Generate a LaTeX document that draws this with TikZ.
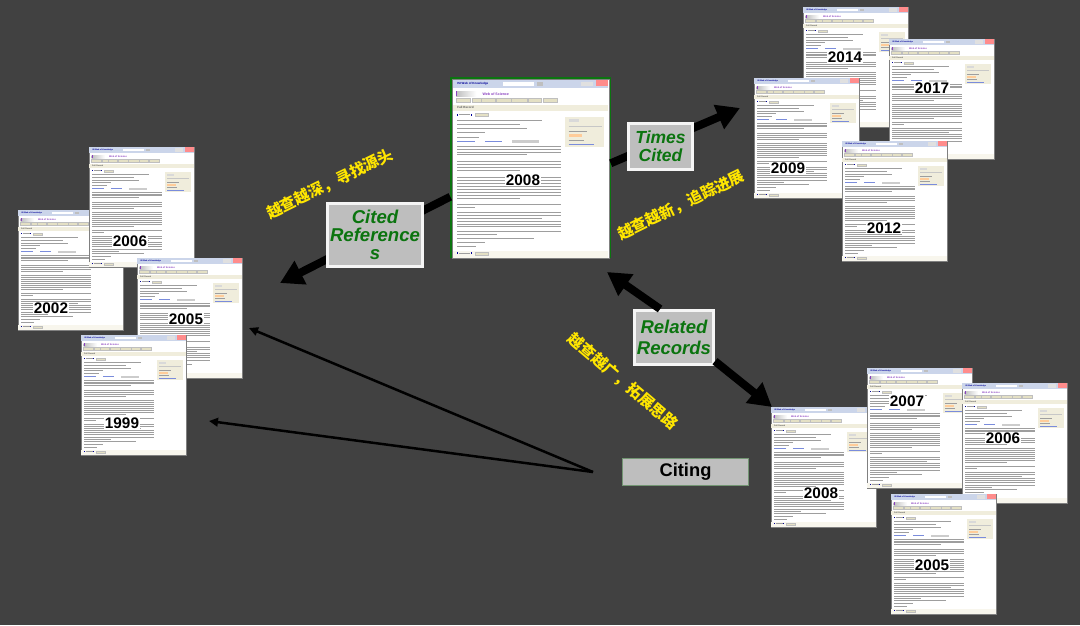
\documentclass[tikz,border=0pt]{standalone}
\usepackage{fontspec}
\setmainfont{Liberation Sans}
\newfontfamily\cjk{Noto Sans CJK SC}
\usetikzlibrary{arrows.meta}

\definecolor{slate}{HTML}{414141}
\definecolor{headblue}{HTML}{CBD5EA}
\definecolor{beige}{HTML}{F0EDDC}
\definecolor{tan}{HTML}{E4E0C4}
\definecolor{linkblue}{HTML}{7A8CDC}
\definecolor{webpurple}{HTML}{8A3FC0}
\definecolor{recgreen}{HTML}{0B740F}
\definecolor{hiyellow}{HTML}{FFE600}
\definecolor{boxgray}{HTML}{BEBEBE}

\tikzset{
    bodyline/.style={draw=black!38, line width=0.55pt},
    tiny text/.style={inner sep=0pt, anchor=west, transform shape},
    pics/recordpage/.style={code={
        \path[fill=white, draw=black!50, line width=0.8pt] (0,0) rectangle (105,120);
        % Window bar
        \fill[headblue] (0.4,0.4) rectangle (104.6,5.6);
        \fill[white] (34,1.6) rectangle (55,4.4);
        \fill[black!25] (57,1.6) rectangle (60.5,4.4);
        \fill[black!12] (86,1.4) rectangle (94,4.6);
        \fill[red!45] (96,0.4) rectangle (104.6,4.6);
        \node[tiny text, text=blue!60!black, font=\bfseries\fontsize{2}{2}\selectfont] (-isi) at (3,3) {ISI Web of Knowledge};
        % Logo and tool row
        \shade[left color=black!25, right color=white] (2.5,8) rectangle (16,11.4);
        \fill[webpurple] (2.5,8) rectangle (3.2,11.4);
        \node[tiny text, text=webpurple, font=\bfseries\fontsize{2.4}{2.4}\selectfont] (-wos) at (20,9.7) {Web of Science};
        \foreach \a/\b in {2.4/12,13/19,19.5/28.5,29/39,39.5/50,50.5/59.5,60.5/70.5}
            \path[fill=tan, draw=black!25, line width=0.2pt] (\a,12.2) rectangle (\b,15.2);
        \fill[beige] (0.4,17) rectangle (104.6,21);
        \node[tiny text, text=black!65, font=\bfseries\fontsize{2}{2}\selectfont] (-full) at (3,19) {Full Record};
        % Record rows, top and bottom
        \fill[beige!50] (0.4,114.8) rectangle (104.6,119.6);
        \foreach \r in {23.6,116.6} {
            \fill[blue!60!black] (3,\r-0.7) rectangle (4,\r+0.7);
            \draw[bodyline] (4.6,\r) -- (12,\r);
            \fill[blue!60!black] (12.4,\r-0.7) rectangle (13.4,\r+0.7);
            \path[fill=tan, draw=black!25, line width=0.2pt] (15,\r-1) rectangle (24,\r+1);
        }
        % Side box
        \fill[beige] (75.8,25.3) rectangle (101.8,45);
        \path[fill=black!15] (78,26.5) rectangle (85,28.5);
        \draw[bodyline, black!22] (78,31.5) -- (100,31.5);
        \draw[bodyline] (78,35) -- (90,35);
        \fill[orange!40] (78,36.6) rectangle (87,38.8);
        \draw[bodyline] (78,40.6) -- (88,40.6);
        \draw[bodyline, linkblue] (78,43.2) -- (95,43.2);
        % Record text
        \foreach \y/\e in {27.6/60,30.3/45,33/50,35.6/22,38.6/18,
                           45/73,46.8/73,48.6/73,50.4/50,
                           55/73,57/73,59/73,61/45,
                           65.5/73,67.5/73,69.5/73,71.5/73,73.5/73,75.5/73,77.5/73,79.5/45,
                           83.6/73,85.6/15,
                           88.8/73,90.8/73,92.8/60,95/73,96.9/73,98.8/73,
                           102/73,103.8/30,
                           106.5/55,109.4/22,112/16}
            \draw[bodyline] (3.3,\y) -- (\e,\y);
        \draw[bodyline, linkblue] (3.3,41.7) -- (15,41.7);
        \draw[bodyline, linkblue] (22,41.7) -- (33,41.7);
        \fill[black!20] (40,40.6) rectangle (58,42.8);
    }},
    yearlabel/.style={fill=white, inner xsep=1pt, inner ysep=0.5pt, font=\bfseries\fontsize{15.3}{15.3}\selectfont},
    bigarrow/.style={line width=8pt, draw=black, -{Triangle[length=23pt,width=25pt]}},
    thinarrow/.style={line width=2.5pt, draw=black, -{Triangle[length=9pt,width=8.5pt]}},
    querybox/.style={fill=boxgray, draw=black!4, line width=2.6pt, align=center, inner sep=0pt, text=recgreen},
    hint/.style={text=hiyellow, font=\cjk\bfseries\fontsize{15.4}{15.4}\selectfont, inner sep=0pt},
}

\begin{document}
\begin{tikzpicture}[x=1pt, y=-1pt]
    \useasboundingbox (0,0) rectangle (1080,625);
    \fill[slate] (0,0) rectangle (1080,625);

    % Older records on the left
    \foreach \name/\x/\y/\lx/\ly/\yr in {L2002/18/210/51/308/2002, L2006/89/147/130/241/2006,
                                         L2005/137/258/186/319/2005, L1999/81/335/122/423/1999} {
        \pic (P-\name) at (\x,\y) {recordpage};
        \node[yearlabel] (Y-\name) at (\lx,\ly) {\yr};
    }

    % Newer records at the top right
    \foreach \name/\x/\y/\lx/\ly/\yr in {T2014/803/7/845/57/2014, T2017/889/39/932/88/2017,
                                         T2009/754/78/788/168/2009, T2012/842/141/884/228/2012} {
        \pic (P-\name) at (\x,\y) {recordpage};
        \node[yearlabel] (Y-\name) at (\lx,\ly) {\yr};
    }

    % Related records at the bottom right
    \foreach \name/\x/\y/\lx/\ly/\yr in {B2008/771/407/821/493/2008, B2007/867/368/907/401/2007,
                                         B2006/962/383/1003/438/2006, B2005/891/494/932/565/2005} {
        \pic (P-\name) at (\x,\y) {recordpage};
        \node[yearlabel] (Y-\name) at (\lx,\ly) {\yr};
    }

    % The record in the middle
    \node[draw=recgreen, line width=2.4pt, fill=white, minimum width=158pt, minimum height=178pt, inner sep=0pt] (main) at (530.5,167.5) {};
    \pic[scale=1.49] (P-main) at (452.5,79.5) {recordpage};
    \node[yearlabel] (Y-main) at (523,180) {2008};

    \coordinate (tipCited) at (280,283);
    \coordinate (tipTimes) at (740,108);
    \coordinate (tipUp) at (607,272);
    \coordinate (tipDown) at (772,407);
    \coordinate (citeFrom) at (593,472);
    \coordinate (tipNewer) at (249,328);
    \coordinate (tipOlder) at (209,421);

    % Thick arrows
    \draw[bigarrow] (main.200) -- (tipCited);
    \draw[bigarrow] (main.3) -- (tipTimes);

    % Citing arrows
    \draw[thinarrow] (citeFrom) -- (tipNewer);
    \draw[thinarrow] (citeFrom) -- (tipOlder);

    % Labels on the arrows
    \node[querybox, minimum width=95.4pt, minimum height=63.4pt, font=\bfseries\itshape\fontsize{18.6}{18}\selectfont] (cited) at (375,235) {Cited\\Reference\\s};
    \node[querybox, minimum width=64.4pt, minimum height=46.4pt, font=\bfseries\itshape\fontsize{17.5}{17.7}\selectfont] (times) at (660.5,146.5) {Times\\Cited};
    \node[querybox, minimum width=79.4pt, minimum height=54.4pt, font=\bfseries\itshape\fontsize{18.5}{21.7}\selectfont] (related) at (674,337.5) {Related\\Records};
    \node[fill=boxgray, draw=green!25!black!55, line width=0.6pt, minimum width=126.4pt, minimum height=27.4pt, inner sep=0pt, font=\bfseries\fontsize{18.3}{18.3}\selectfont] (citing) at (685.5,472) {Citing};

    \draw[bigarrow] (related.116) -- (tipUp);
    \draw[bigarrow] (related.-30) -- (tipDown);

    % Hints in yellow
    \node[hint, rotate=26] (hintDeep) at (330,184) {越查越深，寻找源头};
    \node[hint, rotate=26] (hintNew) at (681,205) {越查越新，追踪进展};
    \node[hint, rotate=-40.5] (hintWide) at (623,381) {越查越广，拓展思路};
\end{tikzpicture}
\end{document}
